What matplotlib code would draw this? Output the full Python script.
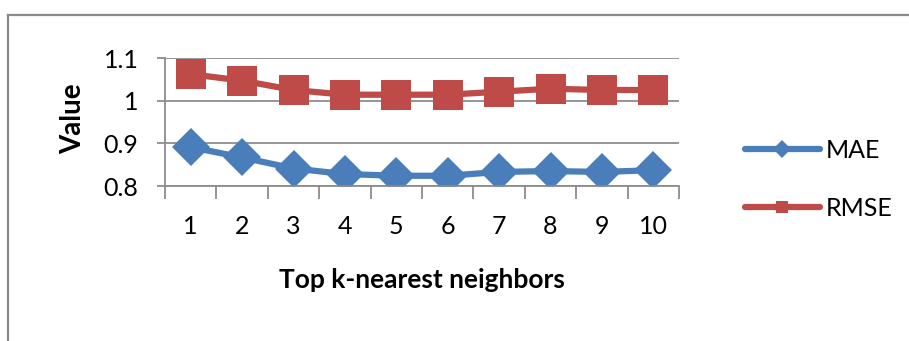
# Error of the top-k nearest neighbour predictor for k = 1..10
import matplotlib
matplotlib.use("Agg")
import matplotlib.pyplot as plt
from matplotlib.lines import Line2D
import numpy as np

# Data
k_values = [1, 2, 3, 4, 5, 6, 7, 8, 9, 10]
mae = [0.891, 0.867, 0.841, 0.828, 0.824, 0.824, 0.833, 0.835, 0.833, 0.837]
rmse = [1.062, 1.047, 1.025, 1.014, 1.014, 1.014, 1.021, 1.028, 1.025, 1.025]

plt.rcParams['font.family'] = ['Lato', 'DejaVu Sans']

blue = '#4A7EBB'
red = '#BE4B48'
grid_grey = '#8C8C8C'

fig = plt.figure(figsize=(9.09, 3.41), dpi=100)
ax = fig.add_axes([165 / 909, 1 - 186 / 341, (679 - 165) / 909, (186 - 58) / 341])

x = np.arange(len(k_values))
ax.plot(x, mae, color=blue, lw=4.5, marker='D', markersize=19,
        markeredgewidth=0, label='MAE', solid_capstyle='round')
ax.plot(x, rmse, color=red, lw=4.5, marker='s', markersize=21,
        markeredgewidth=0, label='RMSE', solid_capstyle='round')

ax.set_xlim(-0.5, len(k_values) - 0.5)
ax.set_ylim(0.8, 1.1)
ax.set_yticks([0.8, 0.9, 1.0, 1.1])
ax.set_yticklabels(['0.8', '0.9', '1', '1.1'])
ax.yaxis.grid(True, color=grid_grey, lw=1.3)
ax.set_axisbelow(True)

# category labels in the middle, tick marks on the boundaries
ax.set_xticks(x)
ax.set_xticklabels([str(k) for k in k_values])
ax.set_xticks(np.arange(-0.5, len(k_values)), minor=True)
ax.tick_params(axis='x', which='major', length=0, pad=21, labelsize=18)
ax.tick_params(axis='x', which='minor', length=9, width=1.3, color=grid_grey)
ax.tick_params(axis='y', length=6, width=1.3, color=grid_grey, pad=13, labelsize=18)

for side in ['top', 'right']:
    ax.spines[side].set_visible(False)
for side in ['left', 'bottom']:
    ax.spines[side].set_color(grid_grey)
    ax.spines[side].set_linewidth(1.3)

fig.text(422 / 909, 1 - 280 / 341, 'Top k-nearest neighbors', ha='center', va='center',
         fontsize=19, fontweight='bold')
fig.text(73 / 909, 1 - 119 / 341, 'Value', ha='center', va='center', rotation=90,
         fontsize=20, fontweight='bold')

leg = ax.legend(loc='center left', bbox_to_anchor=(722 / 909, 1 - 179 / 341),
                bbox_transform=fig.transFigure, frameon=False, fontsize=18,
                handlelength=3.0, handletextpad=0.25, labelspacing=1.4)
for h in leg.legend_handles:
    h.set_markersize(9)

# outer chart frame
fig.add_artist(Line2D([8 / 909, 1.0], [1 - 15 / 341, 1 - 15 / 341],
                      transform=fig.transFigure, color='#8A8A8A', lw=1.6))
fig.add_artist(Line2D([8 / 909, 8 / 909], [0, 1 - 15 / 341],
                      transform=fig.transFigure, color='#8A8A8A', lw=1.6))

fig.savefig('out.png', dpi=100)
